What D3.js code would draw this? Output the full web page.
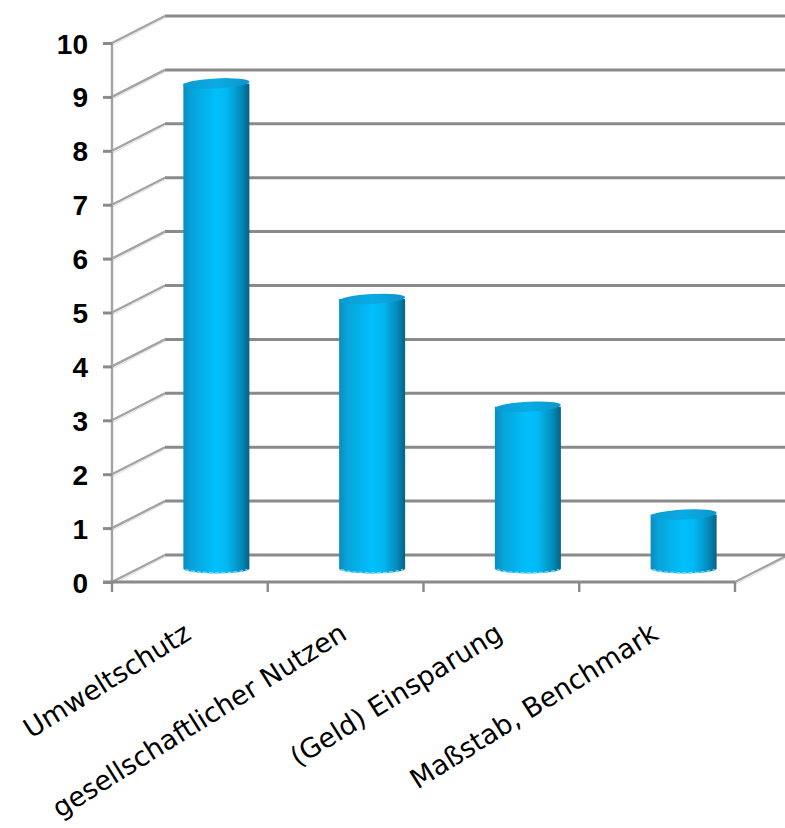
<!DOCTYPE html>
<html>
<head>
<meta charset="utf-8">
<script src="https://cdn.jsdelivr.net/npm/d3@7"></script>
<style>
  html, body { margin: 0; padding: 0; background: #fff; }
  svg { display: block; }
</style>
</head>
<body>
<svg id="chart" width="785" height="828"></svg>
<script>
// Chart data
const categories = ["Umweltschutz", "gesellschaftlicher Nutzen", "(Geld) Einsparung", "Maßstab, Benchmark"];
const values = [9, 5, 3, 1];
const yTicks = [0, 1, 2, 3, 4, 5, 6, 7, 8, 9, 10];

const W = 785, H = 828;
const svg = d3.select("#chart");

// Front plane geometry and 3D depth offset of the back wall
const x0 = 112, x1 = 735, yBase = 582, yTop = 43;
const depthX = 53, depthY = -27;

const x = d3.scaleBand().domain(categories).range([x0, x1]).padding(0);
const y = d3.scaleLinear().domain([0, 10]).range([yBase, yTop]);

const gridColor = "#8a8a8a";
const wallColor = "#a3a3a3";

// Cylinder shading
const defs = svg.append("defs");
const side = defs.append("linearGradient").attr("id", "cylSide")
  .attr("x1", "0%").attr("x2", "100%").attr("y1", "0%").attr("y2", "0%");
[[0, "#0a8cbf"], [0.12, "#08a3da"], [0.5, "#00c0fc"], [0.66, "#02b8f2"], [0.88, "#038ab9"], [1, "#056385"]]
  .forEach(([o, c]) => side.append("stop").attr("offset", o).attr("stop-color", c));
const topG = defs.append("linearGradient").attr("id", "cylTop")
  .attr("x1", "0%").attr("x2", "100%").attr("y1", "0%").attr("y2", "0%");
[[0, "#0b9ad2"], [0.5, "#0aabe4"], [1, "#0a96cb"]]
  .forEach(([o, c]) => topG.append("stop").attr("offset", o).attr("stop-color", c));

const g = svg.append("g");

// Side wall diagonals (left wall) for every tick
const wall = g.append("g");
yTicks.forEach(v => {
  wall.append("line")
    .attr("x1", x0).attr("y1", y(v)).attr("x2", x0 + depthX).attr("y2", y(v) + depthY)
    .attr("stroke", wallColor).attr("stroke-width", 2.4);
  wall.append("line")
    .attr("x1", x0 + 1).attr("y1", y(v) + 2).attr("x2", x0 + depthX).attr("y2", y(v) + depthY + 2)
    .attr("stroke", "#dedede").attr("stroke-width", 1);
});

// Right floor edge
wall.append("line")
  .attr("x1", x1).attr("y1", yBase).attr("x2", x1 + depthX).attr("y2", yBase + depthY)
  .attr("stroke", wallColor).attr("stroke-width", 2.4);
wall.append("line")
  .attr("x1", x1 + 1).attr("y1", yBase + 2).attr("x2", x1 + depthX).attr("y2", yBase + depthY + 2)
  .attr("stroke", "#dedede").attr("stroke-width", 1);

// Back wall gridlines
g.append("g").selectAll("line").data(yTicks).join("line")
  .attr("x1", x0 + depthX).attr("x2", x1 + depthX)
  .attr("y1", d => y(d) + depthY).attr("y2", d => y(d) + depthY)
  .attr("stroke", gridColor).attr("stroke-width", 3);

// Value axis
const yAxis = d3.axisLeft(y).tickValues(yTicks).tickSize(9).tickPadding(15).tickFormat(d3.format("d"));
const ya = g.append("g").attr("transform", `translate(${x0},0)`).call(yAxis);
ya.select(".domain").attr("stroke", wallColor).attr("stroke-width", 2.4)
  .attr("d", `M0,${yTop}V${yBase}`);
ya.selectAll(".tick line").attr("stroke", gridColor).attr("stroke-width", 3);
ya.selectAll(".tick text")
  .attr("font-family", "'Liberation Sans', Arial, sans-serif")
  .attr("font-weight", "bold").attr("font-size", 28).attr("fill", "#000")
  .attr("dy", "0.36em");

// Category axis: baseline and boundary ticks
const bounds = categories.map(c => x(c)).concat([x1]);
g.append("line").attr("x1", x0 - 9).attr("x2", x1).attr("y1", yBase).attr("y2", yBase)
  .attr("stroke", gridColor).attr("stroke-width", 3);
g.append("g").selectAll("line").data(bounds).join("line")
  .attr("x1", d => d).attr("x2", d => d).attr("y1", yBase).attr("y2", yBase + 10)
  .attr("stroke", gridColor).attr("stroke-width", 2.4);

// Cylinders, placed halfway into the depth
const rx = 33, ry = 5;
const cyl = g.append("g").selectAll("g").data(categories.map((c, i) => ({ c, v: values[i] }))).join("g")
  .attr("transform", d => `translate(${x(d.c) + x.bandwidth() / 2 + depthX / 2},0)`);
const yMid = v => y(v) + depthY / 2;

cyl.append("path")
  .attr("d", d => {
    const yb = yMid(0), yt = yMid(d.v);
    return `M${-rx},${yt}L${-rx},${yb}A${rx},${ry} 0 0 0 ${rx},${yb}L${rx},${yt}Z`;
  })
  .attr("fill", "url(#cylSide)");
cyl.append("path")
  .attr("d", d => {
    const yb = yMid(0);
    return `M${-rx + 2},${yb + 1}A${rx},${ry} 0 0 0 ${rx - 2},${yb + 1}`;
  })
  .attr("fill", "none").attr("stroke", "#6fd4f6").attr("stroke-width", 1.5).attr("stroke-dasharray", "4 2");
cyl.append("ellipse")
  .attr("cx", 0).attr("cy", d => yMid(d.v)).attr("rx", rx).attr("ry", ry)
  .attr("transform", d => `rotate(-3,0,${yMid(d.v)})`)
  .attr("fill", "url(#cylTop)");

// Rotated category labels, right end under each category centre
g.append("g").selectAll("text").data(categories).join("text")
  .attr("transform", d => `translate(${x(d) + x.bandwidth() / 2 + 3},638) rotate(-32)`)
  .attr("text-anchor", "end")
  .attr("font-family", "'DejaVu Sans', sans-serif")
  .attr("font-size", 27).attr("fill", "#000")
  .text(d => d);
</script>
</body>
</html>
